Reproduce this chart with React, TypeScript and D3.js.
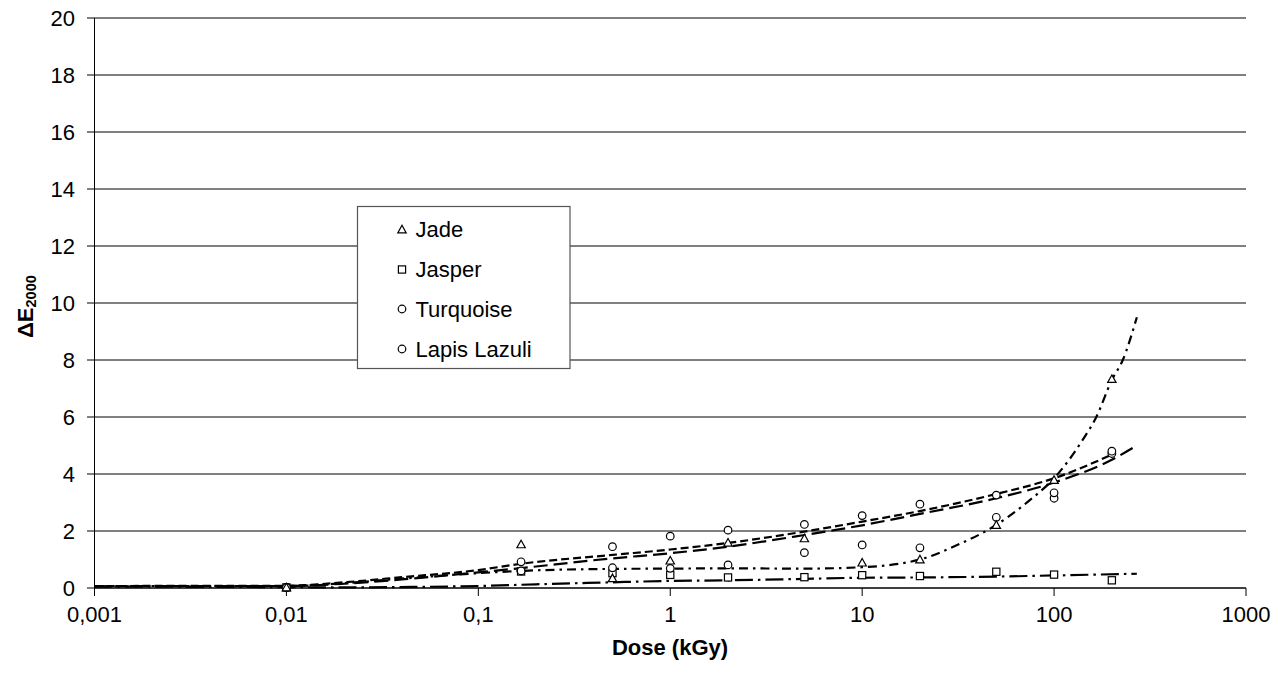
import React from "react";
import * as d3 from "d3";

const doses = [0.01, 0.167, 0.5, 1, 2, 5, 10, 20, 50, 100, 200];
const jade = [0.02, 1.53, 0.34, 0.96, 1.59, 1.74, 0.89, 1.0, 2.21, 3.79, 7.33];
const jasper = [0.02, 0.58, 0.52, 0.46, 0.37, 0.38, 0.45, 0.42, 0.57, 0.47, 0.27];
const turquoise = [0.02, 0.92, 1.45, 1.82, 2.03, 2.23, 2.54, 2.94, 3.26, 3.34, 4.8];
const lapis = [0.02, 0.6, 0.71, 0.69, 0.81, 1.24, 1.51, 1.41, 2.48, 3.15, 4.72];

// trend lines
const jadeTrendX = [0.001, 0.01, 0.02, 0.04, 0.1, 0.167, 0.5, 1, 2, 5, 10, 20, 33, 45, 75, 100, 141, 166, 200, 228, 270];
const jadeTrendY = [0.07, 0.07, 0.17, 0.33, 0.52, 0.6, 0.67, 0.68, 0.69, 0.68, 0.73, 1.0, 1.58, 2.03, 3.09, 3.85, 5.2, 6.0, 7.3, 8.0, 9.5];
const jasperTrendX = [0.001, 0.01, 0.02, 0.05, 0.1, 0.2, 0.5, 1, 2, 5, 10, 20, 50, 100, 270];
const jasperTrendY = [0.05, 0.03, 0.02, 0.04, 0.07, 0.13, 0.2, 0.25, 0.27, 0.32, 0.36, 0.37, 0.4, 0.44, 0.5];
const turqTrendX = [0.001, 0.01, 0.02, 0.04, 0.1, 0.167, 0.5, 1, 2, 5, 10, 20, 50, 100, 200];
const turqTrendY = [0.07, 0.08, 0.2, 0.38, 0.63, 0.85, 1.16, 1.35, 1.58, 1.98, 2.33, 2.7, 3.3, 3.85, 4.68];
const lapisTrendX = [0.001, 0.01, 0.02, 0.04, 0.1, 0.167, 0.5, 1, 2, 5, 10, 20, 50, 100, 200, 270];
const lapisTrendY = [0.06, 0.07, 0.15, 0.3, 0.55, 0.7, 1.04, 1.22, 1.45, 1.86, 2.2, 2.6, 3.15, 3.7, 4.5, 5.0];

const xTicks = [0.001, 0.01, 0.1, 1, 10, 100, 1000];
const xTickLabels = ["0,001", "0,01", "0,1", "1", "10", "100", "1000"];
const yTicks = [0, 2, 4, 6, 8, 10, 12, 14, 16, 18, 20];
const legendNames = ["Jade", "Jasper", "Turquoise", "Lapis Lazuli"];

const FONT = "'Liberation Sans', Arial, sans-serif";

function Marker({ kind, x, y }: { kind: string; x: number; y: number }) {
  if (kind === "tri") {
    const s = 4.2;
    return (
      <path
        d={`M${x},${y - s}L${x + s},${y + s * 0.8}L${x - s},${y + s * 0.8}Z`}
        fill="white"
        stroke="black"
        strokeWidth={1.2}
      />
    );
  }
  if (kind === "sq") {
    return <rect x={x - 3.6} y={y - 3.6} width={7.2} height={7.2} fill="white" stroke="black" strokeWidth={1.2} />;
  }
  return <circle cx={x} cy={y} r={3.8} fill="white" stroke="black" strokeWidth={1.2} />;
}

export default function App() {
  const W = 1278;
  const H = 676;
  const x = d3.scaleLog().domain([0.001, 1000]).range([94.5, 1246]);
  const y = d3.scaleLinear().domain([0, 20]).range([588, 18]);

  const mk = (xs: number[], ys: number[]) =>
    d3
      .line<number>()
      .x((_, i) => x(xs[i]))
      .y((d) => y(d))
      .curve(d3.curveMonotoneX)(ys) || "";

  const trends = [
    { d: mk(jasperTrendX, jasperTrendY), dash: "18,5,2.5,5" },
    { d: mk(jadeTrendX, jadeTrendY), dash: "9,5,2.5,5" },
    { d: mk(lapisTrendX, lapisTrendY), dash: "14,6" },
    { d: mk(turqTrendX, turqTrendY), dash: "8,4" },
  ];

  const series = [
    { vals: jasper, kind: "sq" },
    { vals: lapis, kind: "circ" },
    { vals: turquoise, kind: "circ" },
    { vals: jade, kind: "tri" },
  ];

  const legendKinds = ["tri", "sq", "circ", "circ"];
  const legendRowsY = [229.5, 269.5, 309, 349];

  return (
    <svg width={W} height={H} style={{ position: "absolute", left: 0, top: 0, background: "white" }} fontFamily={FONT}>
      <rect x={0} y={0} width={W} height={H} fill="white" />
      {/* gridlines */}
      {yTicks.map((t) => (
        <line key={"g" + t} x1={87} x2={1246} y1={y(t)} y2={y(t)} stroke="#000" strokeWidth={1} />
      ))}
      {/* axes */}
      <line x1={94.5} x2={94.5} y1={18} y2={588} stroke="#000" strokeWidth={1} />
      <line x1={94.5} x2={1246} y1={588} y2={588} stroke="#000" strokeWidth={1} />
      {xTicks.map((t) => (
        <line key={"xt" + t} x1={x(t)} x2={x(t)} y1={588} y2={596} stroke="#000" strokeWidth={1} />
      ))}
      {yTicks.map((t) => (
        <text key={"yl" + t} x={75} y={y(t) + 7.8} textAnchor="end" fontSize={22} fill="#000">
          {t}
        </text>
      ))}
      {xTicks.map((t, i) => (
        <text key={"xl" + t} x={x(t)} y={622} textAnchor="middle" fontSize={22} fill="#000">
          {xTickLabels[i]}
        </text>
      ))}
      <text x={670} y={655} textAnchor="middle" fontSize={22} fontWeight="bold" fill="#000">
        Dose (kGy)
      </text>
      <text transform="translate(33,338) rotate(-90)" fontSize={22} fontWeight="bold" fill="#000">
        ΔE
        <tspan fontSize={14.5} dy={3}>
          2000
        </tspan>
      </text>
      {/* trend lines */}
      {trends.map((t, i) => (
        <path key={"tr" + i} d={t.d} fill="none" stroke="#000" strokeWidth={2.2} strokeDasharray={t.dash} />
      ))}
      {/* markers */}
      {series.map((s, si) =>
        s.vals.map((v, i) => <Marker key={"m" + si + "-" + i} kind={s.kind} x={x(doses[i])} y={y(v)} />)
      )}
      {/* legend */}
      <rect x={357.5} y={206.5} width={212.5} height={162} fill="white" stroke="#555" strokeWidth={1.2} />
      {legendNames.map((n, i) => (
        <g key={"lg" + i}>
          <Marker kind={legendKinds[i]} x={402} y={legendRowsY[i]} />
          <text x={415.5} y={legendRowsY[i] + 7.8} fontSize={22} fill="#000">
            {n}
          </text>
        </g>
      ))}
    </svg>
  );
}
